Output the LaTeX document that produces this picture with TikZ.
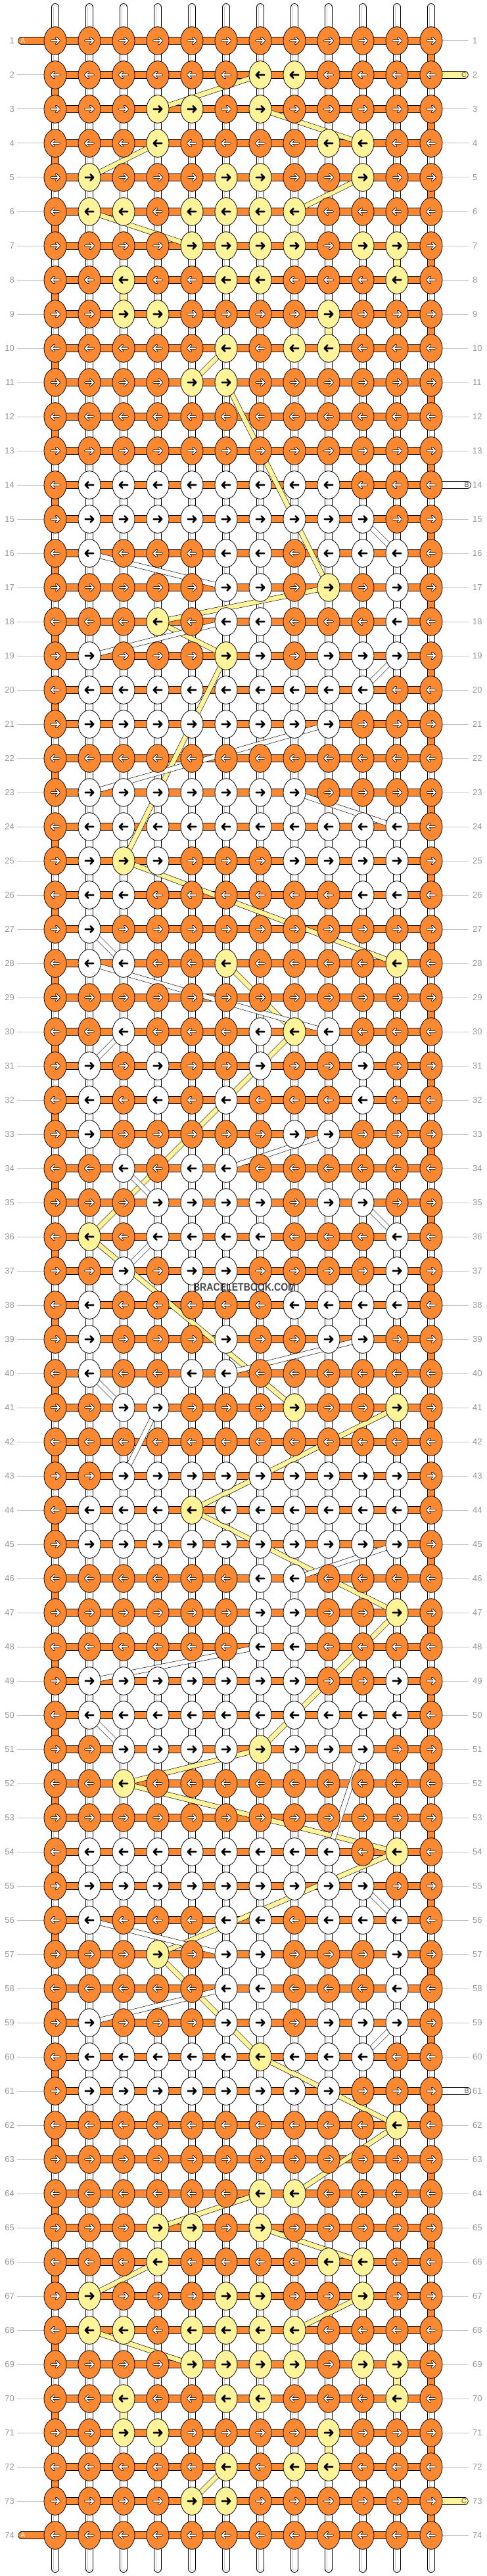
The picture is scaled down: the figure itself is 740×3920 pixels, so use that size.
\documentclass[tikz,border=0pt]{standalone}
\usepackage{fontspec}
\setmainfont{Liberation Sans}
\usetikzlibrary{shapes.geometric,calc}
\definecolor{kO}{RGB}{252,136,50}
\definecolor{kY}{RGB}{255,244,153}
\definecolor{kW}{RGB}{255,255,255}
\definecolor{numgray}{RGB}{150,150,150}
\definecolor{linegray}{RGB}{195,195,195}
\pgfdeclarelayer{back}
\pgfdeclarelayer{mid}
\pgfsetlayers{back,mid,main}
\begin{document}
\begin{tikzpicture}[x=1pt,y=-1pt,line join=round,
	knot/.style={ellipse,draw=black,line width=0.8pt,fill=#1,minimum width=34pt,minimum height=42.6pt,inner sep=0pt},
	bar/.style={draw=black,line width=0.6pt,double=#1,double distance=10.2pt},
	band/.style={draw=black,line width=0.6pt,double=#1,double distance=6.8pt},
	tail/.style={bar=#1,line cap=round},
	warp/.style={draw=black,line width=0.7pt,double=white,double distance=10.4pt,line cap=round},
	warpin/.style={draw=black!22,line width=0.6pt,double=white,double distance=5pt,line cap=round},
	num/.style={text=numgray,font=\fontsize{13}{13}\selectfont,inner sep=0pt},
	numline/.style={draw=linegray,line width=1pt},
	tailtext/.style={font=\fontsize{10.5}{10.5}\selectfont,inner sep=0pt},
	arrowlight/.pic={
		\draw[black,line width=3.4pt,line cap=round] (-6.2,0)--(6.2,0) (1.6,-4.6)--(6.2,0)--(1.6,4.6);
		\draw[white,line width=1.8pt,line cap=round] (-6.2,0)--(6.2,0) (1.6,-4.6)--(6.2,0)--(1.6,4.6);},
	arrowdark/.pic={
		\draw[black,line width=2.7pt,line cap=round] (-6.2,0)--(6.2,0) (1.6,-4.6)--(6.2,0)--(1.6,4.6);}]
	\def\xo{84} \def\yo{62} \def\dx{52} \def\dy{52}
	\useasboundingbox (0,0) rectangle (740,3920);
	% knots, row by row (O = A, W = B, Y = C)
	\foreach \rowdata [count=\r] in {
		{O,O,O,O,O,O,O,O,O,O,O,O},
		{O,O,O,O,O,O,Y,Y,O,O,O,O},
		{O,O,O,Y,Y,O,Y,O,O,O,O,O},
		{O,O,O,Y,O,O,O,O,Y,Y,O,O},
		{O,Y,O,O,O,Y,Y,O,O,Y,O,O},
		{O,Y,Y,O,Y,Y,Y,Y,O,O,O,O},
		{O,O,O,O,Y,Y,Y,Y,O,Y,Y,O},
		{O,O,Y,O,O,Y,Y,O,O,O,Y,O},
		{O,O,Y,Y,O,O,O,O,Y,O,O,O},
		{O,O,O,O,O,Y,O,Y,Y,O,O,O},
		{O,O,O,O,Y,Y,O,O,O,O,O,O},
		{O,O,O,O,O,O,O,O,O,O,O,O},
		{O,O,O,O,O,O,O,O,O,O,O,O},
		{O,W,W,W,W,W,W,W,W,O,O,O},
		{O,W,W,W,W,W,W,W,W,W,O,O},
		{O,W,O,O,O,W,W,O,W,W,W,O},
		{O,O,O,O,O,W,W,O,Y,O,W,O},
		{O,O,O,Y,O,W,W,O,O,O,W,O},
		{O,W,O,O,O,Y,W,O,W,W,W,O},
		{O,W,W,W,W,W,W,W,W,W,O,O},
		{O,W,W,W,W,W,W,W,W,O,O,O},
		{O,O,O,O,O,O,O,O,O,O,O,O},
		{O,W,W,W,W,W,W,W,O,O,O,O},
		{O,W,W,W,W,W,W,W,W,W,W,O},
		{O,W,Y,W,O,O,O,W,W,W,W,O},
		{O,W,W,O,O,O,O,O,O,W,W,O},
		{O,W,O,O,O,O,O,O,O,O,O,O},
		{O,W,W,O,O,Y,O,O,O,O,Y,O},
		{O,O,O,O,O,O,O,O,O,O,O,O},
		{O,O,W,O,O,O,W,Y,W,O,O,O},
		{O,W,O,W,O,O,W,O,O,W,O,O},
		{O,W,O,W,O,W,O,O,O,W,O,O},
		{O,W,O,O,O,O,O,W,W,O,O,O},
		{O,O,W,O,W,W,O,O,O,O,O,O},
		{O,O,O,W,W,W,W,O,W,W,O,O},
		{O,Y,O,W,W,W,W,O,O,O,W,O},
		{O,O,W,O,W,W,O,O,O,O,W,O},
		{O,W,O,O,O,O,O,W,W,W,W,O},
		{O,W,O,O,O,W,O,O,W,W,O,O},
		{O,W,O,O,W,W,O,O,O,O,O,O},
		{O,O,W,W,O,O,O,Y,O,O,Y,O},
		{O,O,O,O,O,O,O,O,O,O,O,O},
		{O,O,W,W,W,W,W,W,W,W,W,O},
		{O,W,W,W,Y,W,W,W,W,W,W,O},
		{O,W,W,W,W,W,W,W,W,W,W,O},
		{O,O,O,O,O,O,W,W,O,O,O,O},
		{O,O,O,O,O,O,W,W,O,O,Y,O},
		{O,O,O,O,O,O,W,W,O,O,O,O},
		{O,W,W,W,W,W,W,W,O,O,W,O},
		{O,W,W,W,W,W,W,W,W,W,W,O},
		{O,O,W,W,W,W,Y,W,W,W,O,O},
		{O,O,Y,O,O,O,O,O,O,O,O,O},
		{O,O,O,O,O,O,O,O,O,O,O,O},
		{O,W,W,W,W,W,W,W,W,O,Y,O},
		{O,W,W,W,W,W,W,W,W,W,O,O},
		{O,W,O,O,O,W,W,O,W,W,W,O},
		{O,O,O,Y,O,W,W,O,O,O,W,O},
		{O,O,O,O,O,W,W,O,O,O,W,O},
		{O,W,O,O,O,W,W,O,W,W,W,O},
		{O,W,W,W,W,W,Y,W,W,W,O,O},
		{O,W,W,W,W,W,W,W,W,O,O,O},
		{O,O,O,O,O,O,O,O,O,O,Y,O},
		{O,O,O,O,O,O,O,O,O,O,O,O},
		{O,O,O,O,O,O,Y,Y,O,O,O,O},
		{O,O,O,Y,Y,O,Y,O,O,O,O,O},
		{O,O,O,Y,O,O,O,O,Y,Y,O,O},
		{O,Y,O,O,O,Y,Y,O,O,Y,O,O},
		{O,Y,Y,O,Y,Y,Y,Y,O,O,O,O},
		{O,O,O,O,Y,Y,Y,Y,O,Y,Y,O},
		{O,O,Y,O,O,Y,Y,O,O,O,Y,O},
		{O,O,Y,Y,O,O,O,O,Y,O,O,O},
		{O,O,O,O,O,Y,O,Y,Y,O,O,O},
		{O,O,O,O,Y,Y,O,O,O,O,O,O},
		{O,O,O,O,O,O,O,O,O,O,O,O}}{
		\ifodd\r\relax \def\dir{1}\else \def\dir{-1}\fi
		\foreach \k [count=\c] in \rowdata {
			\node[knot=k\k] (k-\r-\c) at ({\xo+\dx*(\c-1)},{\yo+\dy*(\r-1)}) {};
			\if O\k \pic[xscale=\dir] at (k-\r-\c) {arrowlight};
			\else \pic[xscale=\dir] at (k-\r-\c) {arrowdark};
			\fi
		}
	}
	% row numbers
	\foreach \r in {1,...,74}{
		\node[num,anchor=east] (ll-\r) at (22,{\yo+\dy*(\r-1)}) {\r};
		\node[num,anchor=west] (rl-\r) at (719,{\yo+\dy*(\r-1)}) {\r};
	}
	% loose ends
	\coordinate (endA1) at (33,62);   \coordinate (endA2) at (33,3858);
	\coordinate (endC1) at (707,114); \coordinate (endC2) at (707,3806);
	\coordinate (endB1) at (711,738); \coordinate (endB2) at (711,3182);
	\node[tailtext,text=white] (txtA1) at (35,62) {A};
	\node[tailtext,text=white] (txtA2) at (35,3858) {A};
	\node[tailtext,text=black!65] (txtC1) at (706,114) {C};
	\node[tailtext,text=black!65] (txtC2) at (706,3806) {C};
	\node[tailtext,text=black!65] (txtB1) at (710,738) {B};
	\node[tailtext,text=black!65] (txtB2) at (710,3182) {B};
	\node[text=black!72,font=\bfseries\fontsize{16.7}{16.7}\selectfont,inner sep=0pt] (wm) at (372,1959) {\scalebox{0.845}[1]{BRACELETBOOK.COM}};
	
	\begin{pgfonlayer}{back}
		\foreach \c in {1,...,12}{
			\coordinate (top-\c) at ({\xo+\dx*(\c-1)},11);
			\coordinate (bot-\c) at ({\xo+\dx*(\c-1)},3909);
			\draw[warp] (top-\c)--(bot-\c);
			\draw[warpin] (top-\c)--(bot-\c);
		}
		% A turning at the edges
		\foreach \r [evaluate=\r as \s using int(\r+1)] in {2,4,...,72}
		\draw[bar=kO] (k-\r-1.center)--(k-\s-1.center);
		\foreach \r [evaluate=\r as \s using int(\r+1)] in {1,3,...,73}
		\draw[bar=kO] (k-\r-12.center)--(k-\s-12.center);
		% C and B straight down
		\foreach \r/\c in {7/11,8/3,9/9,69/11,70/3,71/9}{
			\pgfmathtruncatemacro\s{\r+1}
			\draw[bar=kY] (k-\r-\c.center)--(k-\s-\c.center);}
		\foreach \r/\c in {14/2,17/11,20/2,24/2,25/11,26/2,31/10,32/2,37/11,38/2,43/11,44/2,46/7,47/8,49/11,54/2,57/11,60/2}{
			\pgfmathtruncatemacro\s{\r+1}
			\draw[bar=white] (k-\r-\c.center)--(k-\s-\c.center);}
		\foreach \r in {1,...,74}
		\draw[bar=kO] (k-\r-1.center)--(k-\r-12.center);
		\draw[tail=kO] (endA1)--(k-1-1.center);
		\draw[tail=kO] (endA2)--(k-74-1.center);
		\draw[tail=kY] (endC1)--(k-2-12.center);
		\draw[tail=kY] (endC2)--(k-73-12.center);
		\draw[tail=white] (endB1)--(k-14-12.center);
		\draw[tail=white] (endB2)--(k-61-12.center);
		\foreach \r in {2,...,73}
		\draw[numline] ([xshift=4pt]ll-\r.east)--(k-\r-1.west);
		\foreach \r in {1,3,4,...,13,15,16,...,60,62,63,...,72,74}
		\draw[numline] (k-\r-12.east)--([xshift=-6pt]rl-\r.west);
	\end{pgfonlayer}
	
	\begin{pgfonlayer}{mid}
		\foreach \ra/\ca/\rb/\cb in {2/7/3/4,3/7/4/10,4/4/5/2,5/10/6/8,6/2/7/5,10/6/11/5,11/6/17/9,17/9/18/4,18/4/19/6,19/6/25/3,25/3/28/11,28/6/30/8,30/8/36/2,36/2/41/8,41/11/44/5,44/5/47/11,47/11/51/7,51/7/52/3,52/3/54/11,54/11/57/4,57/4/60/7,60/7/62/11,62/11/64/8,64/7/65/4,65/7/66/10,66/4/67/2,67/10/68/8,68/2/69/5,72/6/73/5}
		\draw[band=kY] (k-\ra-\ca.center)--(k-\rb-\cb.center);
		\foreach \ra/\ca/\rb/\cb in {15/10/16/11,16/2/17/6,18/6/19/2,19/11/20/10,21/9/23/2,23/8/24/11,27/2/28/3,28/2/30/9,30/3/31/2,33/9/34/6,34/3/35/4,35/10/36/11,36/4/37/3,39/10/40/6,40/2/41/3,41/4/43/3,45/11/46/8,48/7/49/2,50/2/51/3,51/10/54/9,55/10/56/11,56/2/57/6,58/6/59/2,59/11/60/10}
		\draw[band=white] (k-\ra-\ca.center)--(k-\rb-\cb.center);
	\end{pgfonlayer}
\end{tikzpicture}
\end{document}
